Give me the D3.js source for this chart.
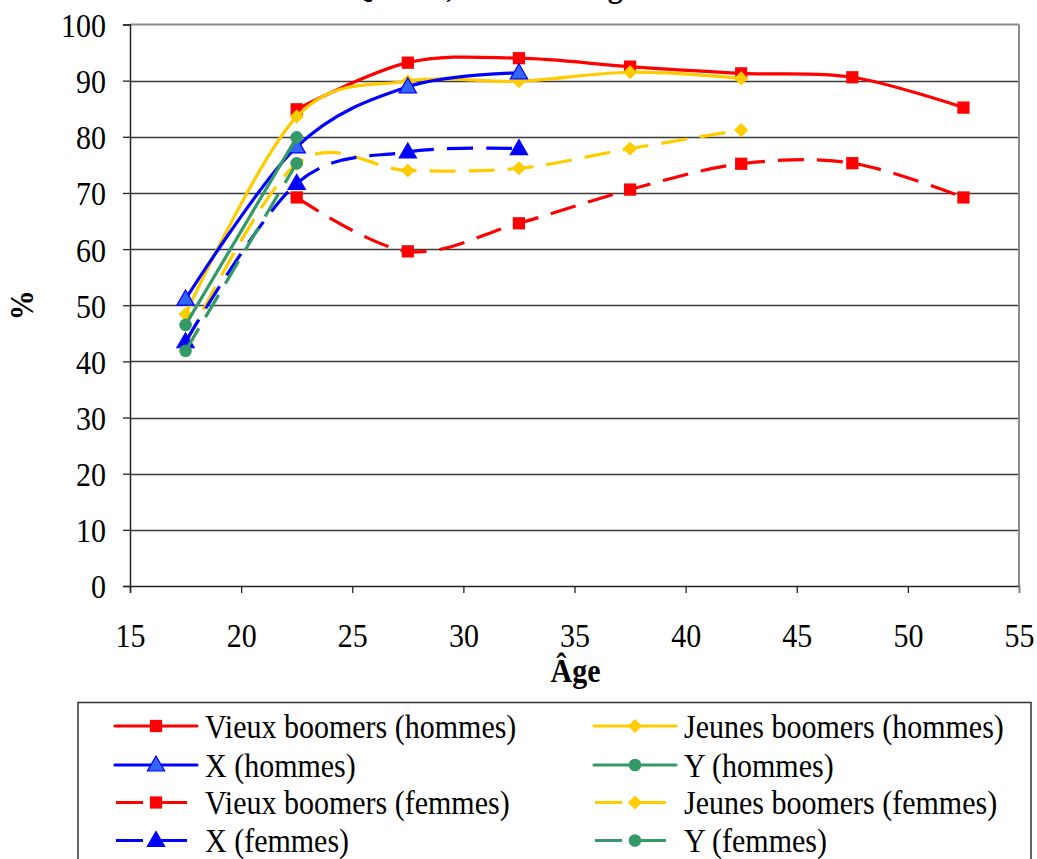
<!DOCTYPE html>
<html>
<head>
<meta charset="utf-8">
<script src="https://cdn.jsdelivr.net/npm/d3@7"></script>
<style>
  html, body { margin: 0; padding: 0; background: #fff; }
  svg { display: block; font-family: "Liberation Serif", "Times New Roman", serif; }
</style>
</head>
<body>
<svg id="chart" width="1037" height="859"></svg>
<script>
// ---- Data ----
const ages = [17.5, 22.5, 27.5, 32.5, 37.5, 42.5, 47.5, 52.5];
const vieuxHommes  = [null, 84.9, 93.2, 94.0, 92.5, 91.3, 90.6, 85.2];
const jeunesHommes = [48.4, 83.6, 89.9, 89.9, 91.5, 90.4, null, null];
const xHommes      = [51.1, 78.2, 88.9, 91.4, null, null, null, null];
const yHommes      = [46.5, 79.9, null, null, null, null, null, null];
const vieuxFemmes  = [null, 69.2, 59.6, 64.6, 70.6, 75.2, 75.3, 69.2];
const jeunesFemmes = [43.0, 75.2, 74.0, 74.4, 77.9, 81.2, null, null];
const xFemmes      = [43.5, 71.7, 77.3, 77.9, null, null, null, null];
const yFemmes      = [41.9, 75.3, null, null, null, null, null, null];

const seriesNames = [
  "Vieux boomers (hommes)", "Jeunes boomers (hommes)",
  "X (hommes)", "Y (hommes)",
  "Vieux boomers (femmes)", "Jeunes boomers (femmes)",
  "X (femmes)", "Y (femmes)"
];
const xTicks = [15, 20, 25, 30, 35, 40, 45, 50, 55];
const yTicks = [0, 10, 20, 30, 40, 50, 60, 70, 80, 90, 100];
const titleText = "Québec, selon leur âge";
const xTitle = "Âge";
const yTitle = "%";

// ---- Series table built from arrays ----
const seriesValues = [vieuxHommes, jeunesHommes, xHommes, yHommes,
                      vieuxFemmes, jeunesFemmes, xFemmes, yFemmes];
const styles = [
  {color: "#FF0000", fill: "#FF0000", sym: "square",   dash: null},
  {color: "#FFCC00", fill: "#FFCC00", sym: "diamond",  dash: null},
  {color: "#0000FF", fill: "#3366FF", sym: "triangle", dash: null},
  {color: "#339966", fill: "#339966", sym: "circle",   dash: null},
  {color: "#FF0000", fill: "#FF0000", sym: "square",   dash: "26,13"},
  {color: "#FFCC00", fill: "#FFCC00", sym: "diamond",  dash: "26,13"},
  {color: "#0000FF", fill: "#0000FF", sym: "triangle", dash: "26,13"},
  {color: "#339966", fill: "#339966", sym: "circle",   dash: "26,13"}
];
const series = seriesNames.map((name, i) => ({
  name, style: styles[i],
  points: ages.map((a, j) => ({x: a, y: seriesValues[i][j]})).filter(p => p.y !== null)
}));

// ---- Layout ----
const FS = 30, SY = 1.14;   // font size, vertical stretch of the reference's text
const svg = d3.select("#chart");
const pLeft = 130, pRight = 1019, pTop = 24.5, pBottom = 586;
const x = d3.scaleLinear().domain([15, 55]).range([pLeft, pRight]);
const y = d3.scaleLinear().domain([0, 100]).range([pBottom, pTop]);

// helper: text with a vertical stretch, baseline at (tx, ty)
function stext(parent, tx, ty, str, opts = {}) {
  const t = parent.append("text")
    .attr("transform", `translate(${tx},${ty}) ${opts.rotate ? "rotate(" + opts.rotate + ") " : ""}scale(1,${SY})`)
    .attr("font-size", FS).text(str);
  if (opts.bold) t.attr("font-weight", "bold");
  if (opts.anchor) t.attr("text-anchor", opts.anchor);
  return t;
}

// title (mostly off-canvas, as in the reference)
stext(svg, 350, -3, titleText, {bold: true});

// gridlines
svg.append("g").selectAll("line").data(yTicks.filter(t => t > 0 && t < 100)).join("line")
  .attr("x1", pLeft).attr("x2", pRight)
  .attr("y1", d => Math.round(y(d)) + 0.5).attr("y2", d => Math.round(y(d)) + 0.5)
  .attr("stroke", "#3a3a3a").attr("stroke-width", 1.3);

// top & right border
svg.append("line").attr("x1", pLeft).attr("x2", pRight).attr("y1", y(100)).attr("y2", y(100))
  .attr("stroke", "#8c8c8c").attr("stroke-width", 2);
svg.append("line").attr("x1", pRight).attr("x2", pRight).attr("y1", y(100)).attr("y2", pBottom)
  .attr("stroke", "#8c8c8c").attr("stroke-width", 2);

// axes
const yAxis = d3.axisLeft(y).tickValues(yTicks).tickSize(7).tickPadding(17);
const gy = svg.append("g").attr("transform", `translate(${pLeft},0)`).call(yAxis);
const xAxis = d3.axisBottom(x).tickValues(xTicks).tickSize(7).tickPadding(36);
const gx = svg.append("g").attr("transform", `translate(0,${pBottom})`).call(xAxis);
[gx, gy].forEach(g => {
  g.select(".domain").attr("stroke", "#222").attr("stroke-width", 1.5);
  g.selectAll(".tick line").attr("stroke", "#222").attr("stroke-width", 1.3);
  g.selectAll("text").attr("font-family", "Liberation Serif, serif").attr("font-size", FS).attr("fill", "#000");
});
gy.selectAll(".tick text").attr("dy", null).attr("y", 0)
  .attr("transform", `translate(0,${0.35 * FS * SY}) scale(1,${SY})`);
gx.selectAll(".tick text").attr("dy", null).attr("y", 0)
  .attr("transform", `translate(0,${647 - pBottom}) scale(1,${SY})`);
gx.select(".tick:last-of-type line").attr("stroke", "#8c8c8c");

// axis titles
stext(svg, (pLeft + pRight) / 2 + 1, 682, xTitle, {bold: true, anchor: "middle"});
stext(svg, 33, (pTop + pBottom) / 2, yTitle, {bold: true, anchor: "middle", rotate: -90});

// symbols
const diamondSym = {draw(ctx, size) { const r = Math.sqrt(size / 2);
  ctx.moveTo(0, -r); ctx.lineTo(r, 0); ctx.lineTo(0, r); ctx.lineTo(-r, 0); ctx.closePath(); }};
const symType = {square: d3.symbolSquare, diamond: diamondSym, triangle: d3.symbolTriangle, circle: d3.symbolCircle};
const symSize = {square: 150, diamond: 100, triangle: 130, circle: 125};
function drawSymbol(g, st, cx, cy) {
  g.append("path")
    .attr("d", d3.symbol().type(symType[st.sym]).size(symSize[st.sym])())
    .attr("transform", `translate(${cx},${cy + (st.sym === "triangle" ? 1 : 0)})`)
    .attr("fill", st.fill).attr("stroke", st.color).attr("stroke-width", st.sym === "triangle" ? 1.2 : 0);
}

// lines
const line = d3.line().x(d => x(d.x)).y(d => y(d.y)).curve(d3.curveCardinal.tension(0));
const plot = svg.append("g");
series.forEach(s => {
  const g = plot.append("g");
  g.append("path").attr("d", line(s.points)).attr("fill", "none")
    .attr("stroke", s.style.color).attr("stroke-width", 3.2)
    .attr("stroke-dasharray", s.style.dash);
  s.points.forEach(p => drawSymbol(g, s.style, x(p.x), y(p.y)));
});

// legend
const legend = svg.append("g");
legend.append("rect").attr("x", 78).attr("y", 702.5).attr("width", 953).attr("height", 170)
  .attr("fill", "#fff").attr("stroke", "#333").attr("stroke-width", 1.5);
const rowY = [726, 765, 802.5, 840.5];
const colX = [115, 594];
series.forEach((s, i) => {
  const r = Math.floor(i / 2), c = i % 2;
  const lx = colX[c], ly = rowY[r];
  const g = legend.append("g");
  if (s.style.dash) {
    g.append("line").attr("x1", lx + 1).attr("x2", lx + 73).attr("y1", ly).attr("y2", ly)
      .attr("stroke", s.style.color).attr("stroke-width", 3.2).attr("stroke-dasharray", "27,17");
  } else {
    g.append("line").attr("x1", lx).attr("x2", lx + 82).attr("y1", ly).attr("y2", ly)
      .attr("stroke", s.style.color).attr("stroke-width", 3.2).attr("stroke-linecap", "round");
  }
  drawSymbol(g, s.style, lx + 41, ly);
  stext(g, lx + 90, ly + 0.34 * FS * SY, s.name);
});
</script>
</body>
</html>
